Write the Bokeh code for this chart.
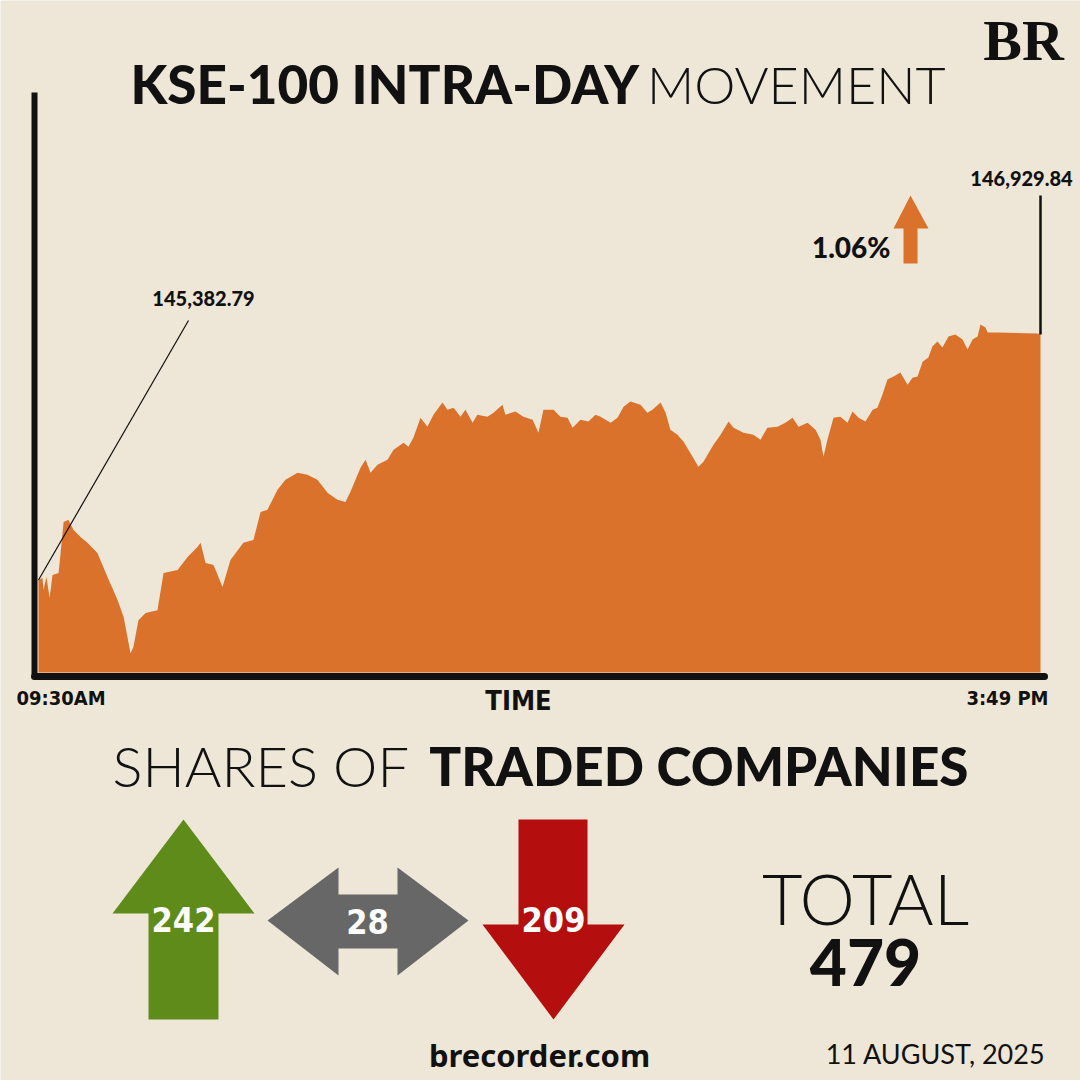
from bokeh.plotting import figure
from bokeh.models import Range1d, ColumnDataSource
from bokeh.core.properties import value
from bokeh.embed import file_html
from bokeh.resources import INLINE

# ---------------- data ----------------
# minutes after 09:30 (session ends 15:49 -> 379 min)
TIME_MIN = [0, 1.5, 1.9, 3.0, 4.2, 5.3, 7.6, 9.5, 11.3, 13.2,
            15.9, 18.5, 22.3, 26.1, 29.9, 32.2, 34.8, 35.9, 37.8, 40.5,
            45.0, 47.3, 52.6, 56.4, 60.1, 61.3, 63.2, 66.2, 69.6, 72.6,
            77.5, 81.3, 84.0, 86.6, 90.4, 93.4, 98.0, 101.7, 105.5, 109.3,
            113.1, 116.1, 118.0, 121.8, 123.7, 125.6, 128.2, 132.0, 134.3, 138.1,
            139.9, 141.8, 144.5, 147.1, 149.4, 152.8, 154.7, 157.0, 159.6, 161.5,
            164.2, 166.0, 169.8, 172.1, 175.5, 176.6, 180.4, 183.4, 186.9, 189.1,
            191.0, 194.8, 197.4, 200.1, 202.0, 205.0, 208.0, 210.7, 212.6, 216.4,
            219.0, 221.3, 223.9, 227.7, 230.3, 232.2, 235.3, 237.2, 239.0, 241.7,
            244.0, 247.4, 249.6, 251.5, 255.3, 258.0, 261.0, 262.9, 266.7, 270.4,
            273.1, 275.7, 279.5, 282.5, 285.2, 287.5, 290.9, 293.9, 295.8, 296.9,
            298.4, 300.7, 303.3, 306.0, 307.9, 310.2, 312.8, 315.5, 317.3, 319.2,
            321.1, 323.4, 326.0, 328.7, 330.6, 332.5, 334.4, 336.6, 338.1, 340.0,
            341.9, 344.2, 346.8, 349.5, 351.4, 353.3, 355.2, 356.3, 358.2, 359.0,
            362.7, 377.9, 379.0]
KSE100 = [145382.79, 145395, 145320, 145402, 145269, 145414, 145427, 145749, 145762, 145699,
          145654, 145617, 145553, 145402, 145257, 145149, 144922, 144960, 145130, 145175,
          145193, 145427, 145446, 145528, 145591, 145617, 145490, 145478, 145339, 145509,
          145617, 145635, 145812, 145825, 145951, 146014, 146059, 146046, 146014, 145932,
          145888, 145875, 145939, 146090, 146141, 146059, 146109, 146141, 146204, 146248,
          146223, 146280, 146406, 146349, 146425, 146501, 146456, 146469, 146412, 146456,
          146374, 146425, 146412, 146437, 146488, 146425, 146444, 146412, 146393, 146311,
          146456, 146456, 146412, 146406, 146343, 146393, 146381, 146425, 146412, 146374,
          146406, 146475, 146507, 146488, 146437, 146456, 146501, 146437, 146330, 146298,
          146254, 146160, 146096, 146128, 146235, 146298, 146381, 146343, 146311, 146298,
          146267, 146343, 146349, 146374, 146406, 146349, 146374, 146330, 146267, 146160,
          146267, 146406, 146412, 146374, 146444, 146406, 146381, 146456, 146469, 146551,
          146646, 146665, 146690, 146614, 146658, 146665, 146759, 146785, 146854, 146886,
          146848, 146917, 146930, 146898, 146835, 146898, 146917, 146993, 146974, 146943,
          146943, 146936, 146929.84]
OPEN_LABEL = "145,382.79"
CLOSE_LABEL = "146,929.84"
CHANGE_LABEL = "1.06%"
START_LABEL = "09:30AM"
END_LABEL = "3:49 PM"
SESSION_MIN = 379

CATEGORIES = ["Advanced", "Unchanged", "Declined"]
COUNTS = [242, 28, 209]
TOTAL = sum(COUNTS)
DATE_LABEL = "11 AUGUST, 2025"

# ---------------- style ----------------
BG = "#EEE7D7"
ORANGE = "#DB722B"
GREEN = "#5F8B1B"
GRAY = "#676767"
RED = "#B40E0E"
INK = "#111111"

BOLD = value("Lato Black, Lato")
LIGHT = value("Lato Light, Lato")
COND = value("Liberation Sans Narrow, DejaVu Sans Condensed")

# chart box in page pixels
X0_PX, X1_PX = 38, 1040
BASE_PX, TOP_PX = 672, 92
Y_MIN, Y_MAX = 144800, 148455
W = H = 1080

p = figure(width=W, height=H, x_range=Range1d(0, W), y_range=Range1d(H, 0),
           output_backend="svg", toolbar_location=None, min_border=0,
           background_fill_color=BG, border_fill_color=BG, outline_line_color=None)
p.axis.visible = False
p.grid.visible = False

ppm = (X1_PX - X0_PX) / SESSION_MIN
vpp = (Y_MAX - Y_MIN) / (BASE_PX - TOP_PX)
p.extra_x_ranges = {"t": Range1d(-X0_PX / ppm, (W - X0_PX) / ppm)}
p.extra_y_ranges = {"v": Range1d(Y_MIN - (H - BASE_PX) * vpp, Y_MIN + BASE_PX * vpp)}

def px_x(t):
    return X0_PX + t * ppm

def px_y(v):
    return BASE_PX - (v - Y_MIN) / vpp

def val_of_px(y):
    return Y_MIN + (BASE_PX - y) * vpp

src = ColumnDataSource(dict(t=TIME_MIN, v=KSE100))
p.varea(x="t", y1=Y_MIN, y2="v", source=src, fill_color=ORANGE,
        x_range_name="t", y_range_name="v")

# axes lines
p.segment(x0=[34], y0=[TOP_PX], x1=[34], y1=[BASE_PX + 3], line_width=6, line_color=INK)
p.segment(x0=[34], y0=[BASE_PX + 4], x1=[1044], y1=[BASE_PX + 4], line_width=7,
          line_color=INK, line_cap="round")

# open annotation
p.segment(x0=[px_x(TIME_MIN[0])], y0=[px_y(KSE100[0])], x1=[188], y1=[320],
          line_width=1.2, line_color=INK)
p.text(x=[203], y=[298], text=[OPEN_LABEL], text_font=BOLD, text_font_style="bold",
       text_font_size="20px", text_align="center", text_baseline="middle", text_color=INK)

# close annotation
p.segment(x0=[TIME_MIN[-1]], y0=[KSE100[-1]], x1=[TIME_MIN[-1]], y1=[val_of_px(195)],
          line_width=2.5, line_color=INK, x_range_name="t", y_range_name="v")
p.text(x=[1021], y=[178], text=[CLOSE_LABEL], text_font=BOLD, text_font_style="bold",
       text_font_size="20px", text_align="center", text_baseline="middle", text_color=INK)

p.text(x=[890], y=[246], text=[CHANGE_LABEL], text_font=BOLD, text_font_style="bold",
       text_font_size="28px", text_align="right", text_baseline="middle", text_color=INK)
p.patch(x=[910, 928, 917, 917, 903, 903, 893], y=[195, 228, 228, 263, 263, 228, 228],
        fill_color=ORANGE, line_color=None)

# titles
p.text(x=[130], y=[83], text=["KSE-100 INTRA-DAY"], text_font=BOLD, text_font_style="bold",
       text_font_size="53px", text_align="left", text_baseline="middle", text_color=INK)
p.text(x=[945], y=[83], text=["MOVEMENT"], text_font=LIGHT, text_font_style="normal",
       text_font_size="52px", text_align="right", text_baseline="middle", text_color=INK)
p.text(x=[1023], y=[40], text=["BR"], text_font=value("Liberation Serif"),
       text_font_style="bold", text_font_size="58px", text_align="center",
       text_baseline="middle", text_color=INK)

# time labels
p.text(x=[16], y=[697], text=[START_LABEL], text_font=COND, text_font_style="bold",
       text_font_size="20px", text_align="left", text_baseline="middle", text_color=INK)
p.text(x=[518], y=[700], text=["TIME"], text_font=COND, text_font_style="bold",
       text_font_size="27px", text_align="center", text_baseline="middle", text_color=INK)
p.text(x=[1048], y=[697], text=[END_LABEL], text_font=COND, text_font_style="bold",
       text_font_size="20px", text_align="right", text_baseline="middle", text_color=INK)

# shares header
p.text(x=[112], y=[765], text=["SHARES OF"], text_font=LIGHT, text_font_style="normal",
       text_font_size="56px", text_align="left", text_baseline="middle", text_color=INK)
p.text(x=[968], y=[765], text=["TRADED COMPANIES"], text_font=BOLD, text_font_style="bold",
       text_font_size="53px", text_align="right", text_baseline="middle", text_color=INK)

# arrows
p.patch(x=[183, 254, 218, 218, 148, 148, 112], y=[819, 913, 913, 1019, 1019, 913, 913],
        fill_color=GREEN, line_color=None)
p.patch(x=[267, 338, 338, 397, 397, 468, 397, 397, 338, 338],
        y=[920, 867, 894, 894, 867, 920, 975, 948, 948, 975],
        fill_color=GRAY, line_color=None)
p.patch(x=[518, 587, 587, 624, 553, 482, 518], y=[819, 819, 924, 924, 1019, 924, 924],
        fill_color=RED, line_color=None)
p.text(x=[183, 367, 553], y=[919, 921, 919], text=[str(c) for c in COUNTS], text_font=COND,
       text_font_style="bold", text_font_size="34px", text_align="center",
       text_baseline="middle", text_color="white")

# total
p.text(x=[865], y=[897], text=["TOTAL"], text_font=LIGHT, text_font_style="normal",
       text_font_size="70px", text_align="center", text_baseline="middle", text_color=INK)
p.text(x=[865], y=[962], text=[str(TOTAL)], text_font=BOLD, text_font_style="bold",
       text_font_size="64px", text_align="center", text_baseline="middle", text_color=INK)

p.text(x=[539], y=[1054], text=["brecorder.com"], text_font=value("Noto Sans"),
       text_font_style="bold", text_font_size="31px", text_align="center",
       text_baseline="middle", text_color=INK)
p.text(x=[1045], y=[1053], text=[DATE_LABEL], text_font=value("Lato"),
       text_font_style="normal", text_font_size="27px", text_align="right",
       text_baseline="middle", text_color=INK)

open("out.html", "w").write(file_html(p, INLINE))
